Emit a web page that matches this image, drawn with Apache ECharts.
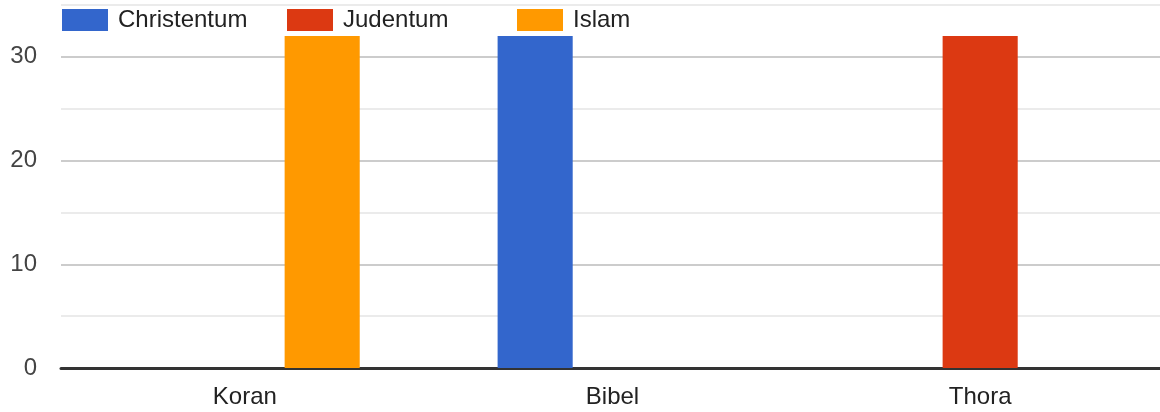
<!DOCTYPE html>
<html>
<head>
<meta charset="utf-8">
<script src="https://cdn.jsdelivr.net/npm/echarts@6/dist/echarts.min.js"></script>
<style>html,body{margin:0;padding:0;background:#fff}#c{width:1160px;height:412px}</style>
</head>
<body>
<div id="c"></div>
<script>
const categories = ['Koran', 'Bibel', 'Thora'];
const seriesNames = ['Christentum', 'Judentum', 'Islam'];
const christentum = [0, 32, 0];
const judentum = [0, 0, 32];
const islam = [32, 0, 0];
const colors = ['#3366cc', '#dc3912', '#ff9900'];
const FONT = 'Arial, "Liberation Sans", sans-serif';

const chart = echarts.init(document.getElementById('c'), null, {renderer: 'canvas'});
const values = [christentum, judentum, islam];
const legendLefts = [62, 287, 517];
chart.setOption({
  animation: false,
  color: colors,
  textStyle: {fontFamily: FONT},
  legend: seriesNames.map((n, i) => ({
    data: [n],
    left: legendLefts[i],
    top: 8,
    padding: 0,
    itemWidth: 46,
    itemHeight: 22,
    itemGap: 12,
    icon: 'rect',
    selectedMode: false,
    textStyle: {fontSize: 24, color: '#222', fontFamily: FONT, padding: [2, 0, 0, 5]}
  })),
  grid: {left: 61, right: -4, top: 5, bottom: 44, containLabel: false, outerBoundsMode: 'none'},
  xAxis: {
    type: 'category',
    data: categories,
    axisLine: {lineStyle: {color: '#333', width: 3}},
    axisTick: {show: false},
    axisLabel: {fontSize: 24, color: '#222', fontFamily: FONT, margin: 17},
    splitLine: {show: false}
  },
  yAxis: {
    type: 'value',
    min: 0,
    max: 35,
    interval: 5,
    axisLine: {show: false},
    axisTick: {show: false},
    axisLabel: {
      fontSize: 24, color: '#444', fontFamily: FONT, margin: 24,
      formatter: v => (v % 10 === 0 ? String(v) : '')
    },
    splitLine: {lineStyle: {color: ['#cccccc', '#ebebeb'], width: 2}}
  },
  series: seriesNames.map((n, i) => ({
    name: n,
    type: 'bar',
    data: values[i],
    barGap: '3%',
    barCategoryGap: '37.5%'
  }))
});
</script>
</body>
</html>
